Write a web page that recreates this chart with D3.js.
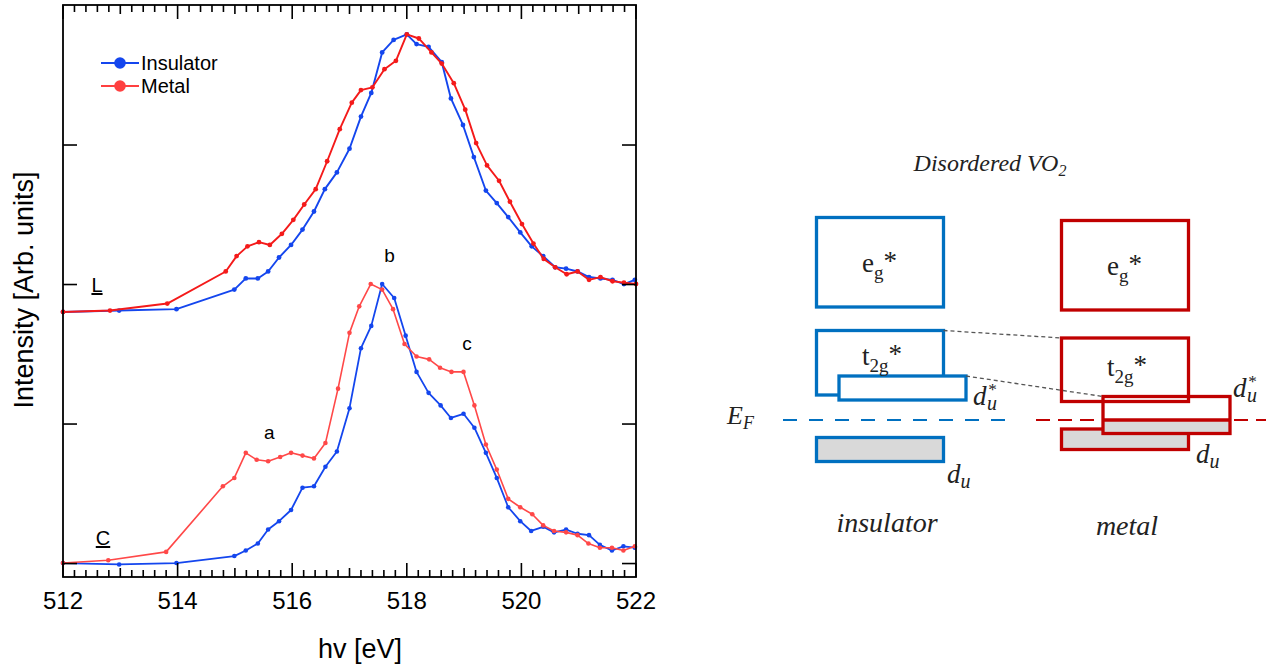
<!DOCTYPE html>
<html>
<head>
<meta charset="utf-8">
<script src="https://cdn.jsdelivr.net/npm/d3@7"></script>
<style>
  body { margin: 0; background: #fff; }
  svg { display: block; }
</style>
</head>
<body>
<svg id="chart" width="1274" height="668"></svg>
<script>
// O K-edge spectra, photon energy (eV) vs intensity (arb. units), L curves offset upward
var insulatorLx = [512.00, 512.98, 513.98, 514.99, 515.19, 515.40, 515.58, 515.77, 515.98, 516.18, 516.38, 516.57, 516.78, 517.00, 517.20, 517.38, 517.57, 517.77, 518.00, 518.17, 518.38, 518.61, 518.77, 518.98, 519.17, 519.38, 519.57, 519.77, 519.98, 520.18, 520.38, 520.59, 520.78, 520.98, 521.18, 521.38, 521.59, 521.79, 521.98];
var insulatorLy = [1.80, 1.81, 1.82, 1.96, 2.04, 2.04, 2.09, 2.19, 2.28, 2.39, 2.52, 2.68, 2.80, 2.97, 3.20, 3.37, 3.66, 3.75, 3.79, 3.72, 3.70, 3.59, 3.33, 3.14, 2.91, 2.67, 2.58, 2.48, 2.37, 2.27, 2.20, 2.12, 2.11, 2.09, 2.05, 2.04, 2.03, 2.00, 2.03];

var metalLx = [512.00, 512.82, 513.82, 514.84, 515.03, 515.22, 515.42, 515.61, 515.82, 516.02, 516.21, 516.41, 516.61, 516.83, 517.04, 517.20, 517.40, 517.61, 517.81, 518.00, 518.21, 518.43, 518.61, 518.82, 519.02, 519.21, 519.40, 519.61, 519.80, 520.01, 520.21, 520.39, 520.59, 520.79, 520.98, 521.18, 521.38, 521.59, 521.79, 522.00];
var metalLy = [1.80, 1.81, 1.86, 2.09, 2.20, 2.27, 2.30, 2.28, 2.36, 2.46, 2.57, 2.68, 2.88, 3.11, 3.30, 3.39, 3.41, 3.54, 3.60, 3.79, 3.76, 3.66, 3.58, 3.44, 3.25, 3.01, 2.85, 2.74, 2.59, 2.43, 2.29, 2.18, 2.12, 2.07, 2.09, 2.03, 2.05, 2.02, 2.01, 2.00];

var insulatorCx = [512.00, 512.98, 513.98, 514.99, 515.19, 515.40, 515.58, 515.77, 515.98, 516.18, 516.38, 516.58, 516.78, 517.00, 517.20, 517.38, 517.57, 517.78, 517.98, 518.17, 518.38, 518.59, 518.77, 518.99, 519.18, 519.38, 519.57, 519.77, 519.98, 520.17, 520.38, 520.57, 520.78, 520.98, 521.18, 521.37, 521.58, 521.78, 521.98];
var insulatorCy = [0.00, -0.01, 0.00, 0.05, 0.09, 0.14, 0.24, 0.30, 0.38, 0.54, 0.55, 0.69, 0.80, 1.11, 1.54, 1.70, 2.00, 1.90, 1.63, 1.37, 1.22, 1.13, 1.04, 1.07, 0.97, 0.79, 0.61, 0.40, 0.30, 0.23, 0.26, 0.22, 0.24, 0.21, 0.20, 0.13, 0.09, 0.12, 0.11];

var metalCx = [512.00, 512.79, 513.80, 514.79, 514.99, 515.19, 515.38, 515.58, 515.79, 515.98, 516.18, 516.38, 516.58, 516.80, 517.00, 517.17, 517.37, 517.57, 517.76, 517.96, 518.17, 518.39, 518.58, 518.78, 518.99, 519.18, 519.38, 519.57, 519.77, 519.98, 520.19, 520.38, 520.57, 520.78, 520.98, 521.17, 521.37, 521.58, 521.78, 521.98];
var metalCy = [0.00, 0.02, 0.08, 0.55, 0.61, 0.79, 0.74, 0.73, 0.76, 0.79, 0.77, 0.75, 0.86, 1.25, 1.65, 1.84, 2.00, 1.96, 1.82, 1.57, 1.48, 1.46, 1.40, 1.37, 1.37, 1.13, 0.85, 0.67, 0.46, 0.40, 0.35, 0.27, 0.23, 0.22, 0.20, 0.14, 0.11, 0.11, 0.09, 0.12];

var xTicks = [512, 514, 516, 518, 520, 522];
var xMidTicks = [513, 515, 517, 519, 521];
var yTicks = [0, 1, 2, 3];
var legendLabels = ["Insulator", "Metal"];
var peakLabels = ["a", "b", "c"];
var peakX = [515.6, 517.7, 519.05];
var peakY = [0.89, 2.16, 1.53];

// band scheme (schematic energy units, E_F = 0); index 0 = insulator, 1 = metal
var columns = ["insulator", "metal"];
var egLo = [11.3, 11.0], egHi = [20.25, 19.95];
var t2gLo = [2.5, 1.85], t2gHi = [8.95, 8.2];
var duStarLo = [2.0, -1.35], duStarHi = [4.4, 2.35];
var duLo = [-4.15, -2.95], duHi = [-1.75, -0.9];

var svg = d3.select("#chart");
var blue = "#1446ee", red = "#f41a1a", redC = "#ff4848";
var sans = "Arial, 'Liberation Sans', sans-serif";

// ---------- left: spectra ----------
var pL = 63, pR = 636, pT = 5, pB = 577;
var x = d3.scaleLinear().domain([512, 522]).range([pL, pR]);
var y = d3.scaleLinear().domain([-0.1, 4.0]).range([pB, pT]);

svg.append("g").selectAll("text").data(xTicks).enter().append("text")
  .attr("x", function (d) { return x(d); }).attr("y", 609)
  .attr("text-anchor", "middle")
  .style("font", "24px " + sans)
  .text(function (d) { return d; });

svg.append("text").attr("x", 360).attr("y", 658)
  .attr("text-anchor", "middle")
  .style("font", "27px " + sans)
  .text("hv [eV]");

svg.append("text").attr("transform", "translate(33,290) rotate(-90)")
  .attr("text-anchor", "middle")
  .style("font", "27px " + sans)
  .text("Intensity [Arb. units]");

var line = d3.line().x(function (d) { return x(d[0]); }).y(function (d) { return y(d[1]); });
var series = [
  { xs: insulatorCx, ys: insulatorCy, color: blue, w: 1.8, r: 2.3 },
  { xs: metalCx, ys: metalCy, color: redC, w: 1.6, r: 2.3 },
  { xs: insulatorLx, ys: insulatorLy, color: blue, w: 1.9, r: 2.4 },
  { xs: metalLx, ys: metalLy, color: red, w: 1.9, r: 2.4 }
];
series.forEach(function (s) {
  var pts = s.xs.map(function (v, i) { return [v, s.ys[i]]; });
  svg.append("path").datum(pts).attr("d", line)
    .attr("fill", "none").attr("stroke", s.color).attr("stroke-width", s.w)
    .attr("stroke-linejoin", "round");
  svg.append("g").selectAll("circle").data(pts).enter().append("circle")
    .attr("cx", function (d) { return x(d[0]); }).attr("cy", function (d) { return y(d[1]); })
    .attr("r", s.r).attr("fill", s.color);
});

svg.append("rect").attr("x", pL).attr("y", pT)
  .attr("width", pR - pL).attr("height", pB - pT)
  .attr("fill", "none").attr("stroke", "#000").attr("stroke-width", 1.8);

// inward x ticks on bottom and top: minor every 0.2 eV, medium at odd eV, major at labels
var minorV = d3.range(0, 51).map(function (i) { return 512 + i * 0.2; });
function tickLen(v) {
  var r = Math.round(v * 10) / 10;
  if (xTicks.indexOf(r) >= 0) return 14;
  if (xMidTicks.indexOf(r) >= 0) return 9;
  return 7;
}
var xTickBars = [];
minorV.forEach(function (v) {
  xTickBars.push({ v: v, y0: pB - tickLen(v), h: tickLen(v) });
  xTickBars.push({ v: v, y0: pT, h: tickLen(v) });
});
svg.append("g").selectAll("rect").data(xTickBars).enter().append("rect")
  .attr("x", function (d) { return x(d.v) - 0.8; })
  .attr("y", function (d) { return d.y0; })
  .attr("width", 1.6)
  .attr("height", function (d) { return d.h; })
  .attr("fill", "#000");
// y ticks, left and right
var yAxisL = svg.append("g").attr("transform", "translate(" + pL + ",0)")
  .call(d3.axisLeft(y).tickValues(yTicks).tickSize(-14).tickFormat(""));
var yAxisR = svg.append("g").attr("transform", "translate(" + pR + ",0)")
  .call(d3.axisRight(y).tickValues(yTicks).tickSize(-14).tickFormat(""));
[yAxisL, yAxisR].forEach(function (g) {
  g.select(".domain").remove();
  g.selectAll(".tick line").attr("stroke", "#000").attr("stroke-width", 1.6);
});

// legend
var legendColors = [blue, "#ff4040"];
legendLabels.forEach(function (t, i) {
  var ly = 63 + i * 23;
  svg.append("line").attr("x1", 101).attr("x2", 139).attr("y1", ly).attr("y2", ly)
    .attr("stroke", legendColors[i]).attr("stroke-width", 2);
  svg.append("circle").attr("cx", 120).attr("cy", ly).attr("r", 5.8).attr("fill", legendColors[i]);
  svg.append("text").attr("x", 141).attr("y", ly + 7)
    .style("font", "20px " + sans).text(t);
});

// peak labels
peakLabels.forEach(function (t, i) {
  svg.append("text").attr("x", x(peakX[i])).attr("y", y(peakY[i]))
    .attr("text-anchor", "middle")
    .style("font", "19px " + sans).text(t);
});
// edge labels, underlined
[["L", 97, 292], ["C", 103, 545]].forEach(function (e) {
  svg.append("text").attr("x", e[1]).attr("y", e[2]).attr("text-anchor", "middle")
    .attr("text-decoration", "underline")
    .style("font", "20px " + sans).text(e[0]);
});

// ---------- right: band scheme ----------
var eScale = d3.scaleLinear().domain([-5, 21]).range([470, 210]);
var colX = d3.scaleLinear().domain([0, 1]).range([816.5, 1061.5]);
var boxW = 127, starShift = [22.5, 41.5];
var bandColors = ["#0070c0", "#c00000"];
var serif = "'Liberation Serif', 'Times New Roman', serif";
var ink = "#222";

var diag = svg.append("g");
var title = diag.append("text").attr("x", 990).attr("y", 171).attr("text-anchor", "middle")
  .attr("fill", ink).style("font", "italic 24px " + serif);
title.append("tspan").text("Disordered VO");
title.append("tspan").attr("dy", 5).style("font-size", "16px").text("2");

function box(x0, lo, hi, col, fill) {
  return diag.append("rect").attr("x", x0).attr("y", eScale(hi))
    .attr("width", boxW).attr("height", eScale(lo) - eScale(hi))
    .attr("fill", fill).attr("stroke", col).attr("stroke-width", 3.3);
}
// orbital label: main letter, subscript, trailing star
function orbital(xp, yp, main, sub) {
  var t = diag.append("text").attr("x", xp).attr("y", yp).attr("fill", ink)
    .style("font", "27px " + serif);
  t.append("tspan").text(main);
  t.append("tspan").attr("dy", 7).style("font-size", "19px").text(sub);
  t.append("tspan").attr("dy", -9).style("font-size", "27px").text("*");
}
// italic d with subscript u, optional star stacked above the u
function dLabel(xp, yp, star) {
  var t = diag.append("text").attr("x", xp).attr("y", yp).attr("fill", ink)
    .style("font", "italic 27px " + serif);
  t.append("tspan").text("d");
  if (star) {
    t.append("tspan").attr("dy", -10).attr("dx", 1).style("font-size", "17px").text("*");
    t.append("tspan").attr("dy", 15).attr("dx", -9).style("font-size", "20px").text("u");
  } else {
    t.append("tspan").attr("dy", 5).style("font-size", "20px").text("u");
  }
}

columns.forEach(function (c, i) {
  var cx = colX(i), col = bandColors[i];
  box(cx, egLo[i], egHi[i], col, "#fff");
  box(cx, t2gLo[i], t2gHi[i], col, "#fff");
  box(cx, duLo[i], duHi[i], col, "#d9d9d9");
  var sx = cx + starShift[i];
  var st = box(sx, duStarLo[i], duStarHi[i], col, "#fff");
  if (duStarLo[i] < 0) {
    diag.append("rect").attr("x", sx).attr("y", eScale(0)).attr("width", boxW)
      .attr("height", eScale(duStarLo[i]) - eScale(0)).attr("fill", "#d9d9d9");
    diag.append("line").attr("x1", sx).attr("x2", sx + boxW)
      .attr("y1", eScale(0)).attr("y2", eScale(0)).attr("stroke", col).attr("stroke-width", 3.3);
    st.raise().attr("fill", "none");
  }
  var mid = cx + boxW / 2;
  orbital(mid - 18, eScale((egLo[i] + egHi[i]) / 2) + 10, "e", "g");
  orbital(mid - 18, eScale((t2gLo[i] + t2gHi[i]) / 2) + (i === 0 ? 2 : 6), "t", "2g");
  diag.append("text").attr("x", mid + (i === 0 ? 7 : 2)).attr("y", 532 + i * 3)
    .attr("text-anchor", "middle").attr("fill", ink)
    .style("font", "italic 28px " + serif).text(c);
});

dLabel(973, 405, true);
dLabel(947, 483, false);
dLabel(1233, 397, true);
dLabel(1196, 463, false);

// Fermi level
diag.append("line").attr("x1", 783).attr("x2", 1013).attr("y1", eScale(0)).attr("y2", eScale(0))
  .attr("stroke", bandColors[0]).attr("stroke-width", 2).attr("stroke-dasharray", "14,12");
diag.append("line").attr("x1", 1036).attr("x2", 1266).attr("y1", eScale(0)).attr("y2", eScale(0))
  .attr("stroke", bandColors[1]).attr("stroke-width", 2).attr("stroke-dasharray", "14,8");
var ef = diag.append("text").attr("x", 727).attr("y", 424).attr("fill", ink)
  .style("font", "italic 26px " + serif);
ef.append("tspan").text("E");
ef.append("tspan").attr("dy", 5).style("font-size", "18px").text("F");

// connectors between insulator and metal levels
diag.append("line")
  .attr("x1", colX(0) + boxW).attr("y1", eScale(t2gHi[0]))
  .attr("x2", colX(1)).attr("y2", eScale(t2gHi[1]))
  .attr("stroke", "#555").attr("stroke-width", 1.3).attr("stroke-dasharray", "4,3");
diag.append("line")
  .attr("x1", colX(0) + starShift[0] + boxW).attr("y1", eScale(duStarHi[0]))
  .attr("x2", colX(1) + starShift[1]).attr("y2", eScale(duStarHi[1]))
  .attr("stroke", "#555").attr("stroke-width", 1.3).attr("stroke-dasharray", "4,3");
</script>
</body>
</html>
